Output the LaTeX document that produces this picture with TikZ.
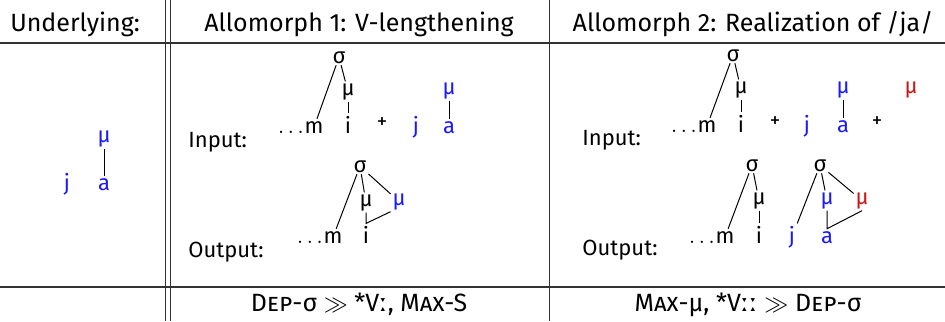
\documentclass[tikz,border=0pt]{standalone}
\usepackage{fontspec}
\setmainfont{Fira Sans}
\newfontfamily\ipafont{DejaVu Sans}
\usepackage{xcolor}
\usepackage{amsmath, amssymb}
\usepackage{tikz}
\usetikzlibrary{calc}

\definecolor{segblue}{RGB}{25,25,250}
\definecolor{morared}{RGB}{205,20,20}
\newcommand{\lng}{{\ipafont ː}}

\tikzset{
    rule/.style={line width=0.6pt, black!80},
    head/.style={anchor=base, inner sep=0pt, font=\fontsize{12.5}{15}\selectfont},
    seg/.style={anchor=base, inner sep=1pt, font=\fontsize{11}{13}\selectfont},
    mora/.style={anchor=base, inner sep=0.8pt, font=\fontsize{11}{13}\selectfont},
    dots/.style={anchor=base east, inner xsep=0pt, font=\fontsize{11}{13}\selectfont},
    plus/.style={anchor=base, inner sep=0pt, font=\fontsize{10.5}{12}\selectfont},
    lbl/.style={anchor=base west, inner sep=0pt, font=\fontsize{11}{13}\selectfont},
    assoc/.style={line width=0.5pt}
}

\begin{document}
\begin{tikzpicture}[x=0.5pt, y=-0.5pt]
    \useasboundingbox (0,0) rectangle (945,321);
    % Draw table rules
    \draw[rule] (0,43) -- (945,43);
    \draw[rule] (0,287) -- (945,287);
    \foreach \x in {165.5,170.5,549.5} {
        \draw[rule] (\x,0) -- (\x,321);
    }
    % Header row
    \node[head] (h1) at (75,31) {Underlying:};
    \node[head] (h2) at (359,31) {Allomorph 1: V-lengthening};
    \node[head] (h3) at (753,31) {Allomorph 2: Realization of /ja/};

    % Underlying form
    \node[mora, segblue] (umu) at (104,142) {μ};
    \node[seg, segblue] (ua) at (104,190) {a};
    \node[seg, segblue] (uj) at (67,190) {j};
    \draw[assoc] (umu) -- (ua);

    % Allomorph 1, input
    \node[lbl] (in1) at (188,147) {Input:};
    \node[mora] (s1) at (339,63) {σ};
    \node[mora] (mu1) at (348,95) {μ};
    \node[seg] (m1) at (314,133) {m};
    \node[dots] (d1) at ($(m1.base west)+(2,0)$) {$\ldots$};
    \node[seg] (i1) at (348,133) {i};
    \node[plus] (p1) at (382,128) {+};
    \node[seg, segblue] (j1) at (416,133) {j};
    \node[seg, segblue] (a1) at (449,133) {a};
    \node[mora, segblue] (amu1) at (449,94) {μ};
    \draw[assoc] (s1) -- (m1);
    \draw[assoc] (s1) -- (mu1);
    \draw[assoc] (mu1) -- (i1);
    \draw[assoc] (amu1) -- (a1);

    % Allomorph 1, output
    \node[lbl] (out1) at (188,257) {Output:};
    \node[mora] (s2) at (360,172) {σ};
    \node[mora] (mu2) at (366,206) {μ};
    \node[mora, segblue] (amu2) at (399,205) {μ};
    \node[seg] (m2) at (333,243) {m};
    \node[dots] (d2) at ($(m2.base west)+(2,0)$) {$\ldots$};
    \node[seg] (i2) at (366,243) {i};
    \draw[assoc] (s2) -- (m2);
    \draw[assoc] (s2) -- (mu2);
    \draw[assoc] (s2) -- (amu2);
    \draw[assoc] (mu2) -- (i2.north) -- (amu2.south west);

    % Allomorph 2, input
    \node[lbl] (in2) at (582,145) {Input:};
    \node[mora] (s3) at (733,61) {σ};
    \node[mora] (mu3) at (741,93) {μ};
    \node[seg] (m3) at (707,132) {m};
    \node[dots] (d3) at ($(m3.base west)+(2,0)$) {$\ldots$};
    \node[seg] (i3) at (741,132) {i};
    \node[plus] (p2) at (775,127) {+};
    \node[seg, segblue] (j3) at (807,132) {j};
    \node[seg, segblue] (a3) at (843,132) {a};
    \node[mora, segblue] (amu3) at (843,93) {μ};
    \node[plus] (p3) at (877,127) {+};
    \node[mora, morared] (rmu3) at (911,93) {μ};
    \draw[assoc] (s3) -- (m3);
    \draw[assoc] (s3) -- (mu3);
    \draw[assoc] (mu3) -- (i3);
    \draw[assoc] (amu3) -- (a3);

    % Allomorph 2, output
    \node[lbl] (out2) at (582,255) {Output:};
    \node[mora] (s4) at (752,171) {σ};
    \node[mora] (mu4) at (759,204) {μ};
    \node[seg] (m4) at (725,243) {m};
    \node[dots] (d4) at ($(m4.base west)+(2,0)$) {$\ldots$};
    \node[seg] (i4) at (759,243) {i};
    \node[mora] (s5) at (820,171) {σ};
    \node[seg, segblue] (j5) at (792,243) {j};
    \node[seg, segblue] (a5) at (827,243) {a};
    \node[mora, segblue] (amu5) at (827,204) {μ};
    \node[mora, morared] (rmu5) at (862,204) {μ};
    \draw[assoc] (s4) -- (m4);
    \draw[assoc] (s4) -- (mu4);
    \draw[assoc] (mu4) -- (i4);
    \draw[assoc] (s5) -- (j5);
    \draw[assoc] (s5) -- (amu5);
    \draw[assoc] (s5) -- (rmu5);
    \draw[assoc] (amu5) -- (a5.north) -- (rmu5.south);

    % Constraint rankings
    \node[head] (r1) at (359,311) {\textsc{Dep}-σ $\gg$ *V\lng, \textsc{Max}-S};
    \node[head] (r2) at (748,311) {\textsc{Max}-μ, *V\lng\lng{} $\gg$ \textsc{Dep}-σ};
\end{tikzpicture}
\end{document}
